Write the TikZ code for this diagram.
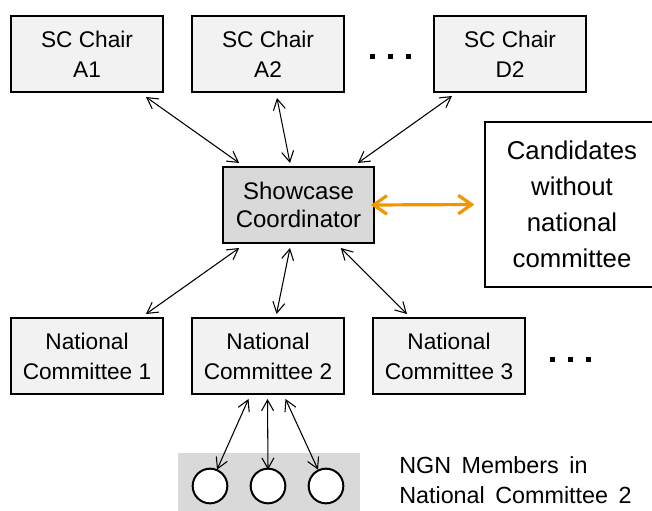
\documentclass[tikz,border=0pt]{standalone}
\usepackage{fontspec}
\setmainfont{Liberation Sans}
\usetikzlibrary{arrows.meta,positioning}
\definecolor{boxgray}{RGB}{242,242,242}
\definecolor{coordgray}{RGB}{217,217,217}
\definecolor{linkorange}{RGB}{240,150,0}
\begin{document}
\begin{tikzpicture}[x=0.75pt, y=-0.75pt, node distance=135.75pt]
    \tikzstyle{member}=[draw, fill=boxgray, line width=1.5pt, align=center, minimum width=114pt, minimum height=57pt, inner sep=0pt, font=\fontsize{17}{22.5}\selectfont]
    \tikzstyle{ngn}=[circle, draw, fill=white, line width=1.5pt, minimum size=26pt, inner sep=0pt]
    \tikzstyle{link}=[{Straight Barb[length=8pt,width=9pt]}-{Straight Barb[length=8pt,width=9pt]}, line width=0.8pt]

    \clip (0,0) rectangle (652,510);

    % steering committee chairs
    \node[member] (A1) at (87,54) {SC Chair\\A1};
    \node[member, right of=A1] (A2) {SC Chair\\A2};
    \node[member] (D2) at (510,54) {SC Chair\\D2};
    \foreach \x in {372,390,408} \fill (\x-2.5,54.5) rectangle (\x+2.5,59.5);

    \node[member, fill=coordgray, minimum width=113pt, font=\fontsize{18}{21}\selectfont] (SC) at (298.5,205) {Showcase\\Coordinator};
    \node[draw, line width=1pt, align=center, minimum width=130.5pt, minimum height=123.75pt, inner sep=0pt, font=\fontsize{19.3}{27}\selectfont] (CA) at (572,204.5) {Candidates\\without\\national\\committee};

    % national committees
    \node[member] (NC1) at (87,356) {National\\Committee 1};
    \node[member, right of=NC1] (NC2) {National\\Committee 2};
    \node[member, right of=NC2] (NC3) {National\\Committee 3};
    \foreach \x in {552,570,588} \fill (\x-2.5,356.5) rectangle (\x+2.5,361.5);

    % NGN members of committee 2
    \fill[coordgray] (178,453) rectangle (360,512);
    \node[ngn] (M1) at (210,486) {};
    \node[ngn] (M2) at (268,486) {};
    \node[ngn] (M3) at (326,486) {};
    \node[anchor=west, align=left, inner sep=0pt, font={\fontsize{17.5}{22.5}\selectfont\spaceskip=0.45em\relax}] (NGN) at (399,480) {NGN Members in\\National Committee 2};

    \draw[link] ([shift={(-18,4)}]A1.south east) -- ([shift={(17,-3)}]SC.north west);
    \draw[link] ([shift={(9,5)}]A2.south) -- ([shift={(-8.5,-3)}]SC.north);
    \draw[link] ([shift={(19,3)}]D2.south west) -- ([shift={(-17,-3)}]SC.north east);
    \draw[link] ([shift={(17,4)}]SC.south west) -- ([shift={(-18,-3)}]NC1.north east);
    \draw[link] ([shift={(-8.5,4)}]SC.south) -- ([shift={(8.5,-3)}]NC2.north);
    \draw[link] ([shift={(-34,4)}]SC.south east) -- ([shift={(35,-3)}]NC3.north west);
    \draw[{Straight Barb[length=10pt,width=14pt]}-{Straight Barb[length=10pt,width=14pt]}, linkorange, line width=2.4pt] ([xshift=-3pt]SC.east) -- ([xshift=-7.5pt]CA.west);
    \draw[link] ([shift={(-19.5,4)}]NC2.south) -- ([shift={(7,2)}]M1.north);
    \draw[link] ([shift={(-0.5,4)}]NC2.south) -- ([shift={(0,2)}]M2.north);
    \draw[link] ([shift={(17.5,4)}]NC2.south) -- ([shift={(-8,2)}]M3.north);
\end{tikzpicture}
\end{document}
